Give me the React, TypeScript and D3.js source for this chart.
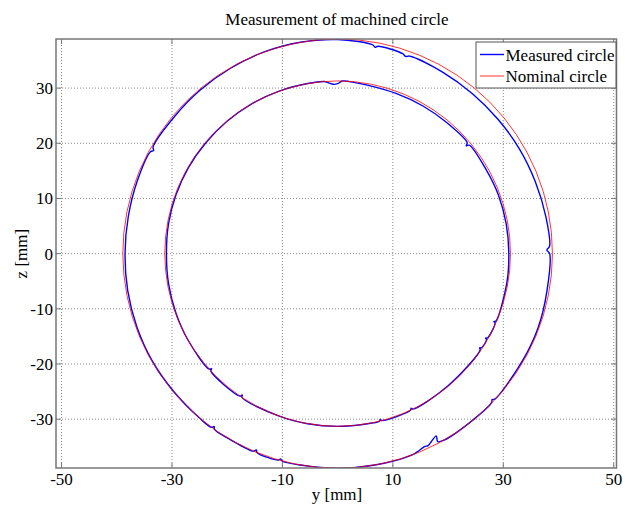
import React, { useEffect, useRef } from "react";
import * as d3 from "d3";

// nominal circle radii [mm] (outer, inner)
const nominalRadii = [38.9, 31.3];

// measured outer circle: polar angle [deg] and radial deviation from nominal [mm]
const outerAngles = [
  0, 1, 2, 10, 20, 30, 40, 50, 60, 70, 71, 72, 79, 79.7, 80.4, 90, 100, 110, 120,
  130, 140, 150, 150.7, 151.4, 160, 170, 180, 190, 200, 210, 220, 230, 234, 234.5,
  235, 240, 247, 247.5, 248, 254, 254.5, 255, 260, 270, 280, 290, 292, 294.2, 295.2,
  296.5, 298.4, 298.0, 299.5, 310, 316, 316.6, 317.2, 330, 340, 350,
];
const outerDev = [
  -0.5, -1.0, -0.5, -0.6, -0.8, -0.9, -1.0, -1.0, -0.9, -0.8, -1.1, -0.8, -0.6, -0.9,
  -0.55, -0.1, 0, 0, -0.1, -0.2, -0.3, -0.3, -0.7, -0.3, -0.3, -0.4, -0.4, -0.3, -0.2,
  -0.1, -0.1, 0, 0, -0.4, 0, 0, 0, -0.4, 0, 0, -0.3, 0, 0, 0, 0, 0, -0.2, -0.55, -0.45,
  -0.85, -1.35, -0.3, 0, -0.05, -0.1, -0.4, -0.1, -0.2, -0.2, -0.4,
];

// measured inner circle
const innerAngles = [
  0, 10, 20, 30, 39.5, 40, 40.6, 50, 60, 70, 80, 86, 88.5, 90, 91.5, 93, 94.5, 100,
  110, 120, 130, 140, 150, 160, 170, 180, 190, 200, 210, 222, 222.4, 222.8, 235.6,
  236, 236.4, 250, 260, 270, 280, 284, 284.4, 284.8, 295, 295.4, 295.8, 310, 326,
  326.4, 326.8, 330, 330.3, 330.6, 336.2, 336.5, 336.8, 350,
];
const innerDev = [
  -0.3, -0.3, -0.3, -0.4, -0.4, -0.9, -0.4, -0.4, -0.4, -0.4, -0.3, -0.05, 0, -0.5,
  -0.6, -0.3, 0, 0, 0, 0, -0.05, -0.1, -0.1, -0.15, -0.2, -0.3, -0.2, -0.1, 0, 0,
  -0.4, 0, 0, -0.4, 0, 0, 0, 0, 0, 0, -0.3, 0, 0, -0.3, 0, -0.1, -0.15, -0.45, -0.15,
  -0.15, -0.45, -0.15, -0.15, -0.45, -0.15, -0.2,
];

const xTicks = [-50, -30, -10, 10, 30, 50];
const yTicks = [-30, -20, -10, 0, 10, 20, 30];
const legendLabels = ["Measured circle", "Nominal circle"];

const W = 625;
const H = 505;
const plot = { left: 56, top: 39, right: 616.5, bottom: 468 };
const FONT = "Liberation Serif, Times New Roman, serif";
const FS = 17;

export default function App() {
  const ref = useRef<SVGSVGElement>(null);

  useEffect(() => {
    const svg = d3.select(ref.current);
    svg.selectAll("*").remove();
    svg.attr("font-family", FONT).attr("font-size", FS);

    const x = d3.scaleLinear().domain([-51.0, 50.5]).range([plot.left, plot.right]);
    const y = d3.scaleLinear().domain([-38.85, 38.9]).range([plot.bottom, plot.top]);

    svg.append("rect").attr("width", W).attr("height", H).attr("fill", "#fff");

    // Title
    svg
      .append("text")
      .attr("x", 337)
      .attr("y", 25)
      .attr("text-anchor", "middle")
      .text("Measurement of machined circle");

    // Grid
    const grid = svg.append("g").attr("stroke", "#8a8a8a").attr("stroke-dasharray", "1,2");
    xTicks.forEach((t) => {
      grid
        .append("line")
        .attr("x1", x(t))
        .attr("x2", x(t))
        .attr("y1", plot.top)
        .attr("y2", plot.bottom);
    });
    yTicks.forEach((t) => {
      grid
        .append("line")
        .attr("x1", plot.left)
        .attr("x2", plot.right)
        .attr("y1", y(t))
        .attr("y2", y(t));
    });

    // clip
    svg
      .append("clipPath")
      .attr("id", "plotclip")
      .append("rect")
      .attr("x", plot.left)
      .attr("y", plot.top)
      .attr("width", plot.right - plot.left)
      .attr("height", plot.bottom - plot.top);

    const g = svg.append("g").attr("clip-path", "url(#plotclip)");

    const line = d3
      .line<[number, number]>()
      .x((d) => x(d[0]))
      .y((d) => y(d[1]))
      .curve(d3.curveCatmullRomClosed.alpha(0.5));

    const measured = [
      { R: nominalRadii[0], angles: outerAngles, dev: outerDev },
      { R: nominalRadii[1], angles: innerAngles, dev: innerDev },
    ];
    measured.forEach((m) => {
      const pts: [number, number][] = m.angles.map((a, i) => {
        const r = m.R + m.dev[i];
        const th = (a * Math.PI) / 180;
        return [r * Math.cos(th), r * Math.sin(th)];
      });
      g.append("path")
        .attr("d", line(pts))
        .attr("fill", "none")
        .attr("stroke", "#0000ff")
        .attr("stroke-width", 1.4);
    });

    // nominal circles
    nominalRadii.forEach((R) => {
      g.append("ellipse")
        .attr("cx", x(0))
        .attr("cy", y(0))
        .attr("rx", x(R) - x(0))
        .attr("ry", y(0) - y(R))
        .attr("fill", "none")
        .attr("stroke", "#ff0000")
        .attr("stroke-width", 0.8);
    });

    // Axes box and ticks
    const axisColor = "#777";
    svg
      .append("rect")
      .attr("x", plot.left)
      .attr("y", plot.top)
      .attr("width", plot.right - plot.left)
      .attr("height", plot.bottom - plot.top)
      .attr("fill", "none")
      .attr("stroke", axisColor)
      .attr("stroke-width", 1.5);

    const tl = 5;
    const ticks = svg.append("g").attr("stroke", axisColor).attr("stroke-width", 1);
    xTicks.forEach((t) => {
      ticks.append("line").attr("x1", x(t)).attr("x2", x(t)).attr("y1", plot.bottom).attr("y2", plot.bottom - tl);
      ticks.append("line").attr("x1", x(t)).attr("x2", x(t)).attr("y1", plot.top).attr("y2", plot.top + tl);
    });
    yTicks.forEach((t) => {
      ticks.append("line").attr("x1", plot.left).attr("x2", plot.left + tl).attr("y1", y(t)).attr("y2", y(t));
      ticks.append("line").attr("x1", plot.right).attr("x2", plot.right - tl).attr("y1", y(t)).attr("y2", y(t));
    });

    xTicks.forEach((t) => {
      svg
        .append("text")
        .attr("x", x(t))
        .attr("y", 485)
        .attr("text-anchor", "middle")
        .text(t);
    });
    yTicks.forEach((t) => {
      svg
        .append("text")
        .attr("x", 53)
        .attr("y", y(t))
        .attr("dy", "0.35em")
        .attr("text-anchor", "end")
        .text(t);
    });

    // axis labels
    svg
      .append("text")
      .attr("x", 337)
      .attr("y", 500)
      .attr("text-anchor", "middle")
      .text("y [mm]");
    svg
      .append("text")
      .attr("transform", `translate(27,${y(0)}) rotate(-90)`)
      .attr("text-anchor", "middle")
      .text("z [mm]");

    // Legend
    const lg = svg.append("g");
    lg.append("rect")
      .attr("x", 476)
      .attr("y", 42)
      .attr("width", 140)
      .attr("height", 46)
      .attr("fill", "#fff")
      .attr("stroke", "#555")
      .attr("stroke-width", 1);
    const legendColors = ["#0000ff", "#ff0000"];
    const legendWidths = [1.4, 0.8];
    legendLabels.forEach((lab, i) => {
      const ly = 54.5 + i * 21.5;
      lg.append("line")
        .attr("x1", 480)
        .attr("x2", 504)
        .attr("y1", ly)
        .attr("y2", ly)
        .attr("stroke", legendColors[i])
        .attr("stroke-width", legendWidths[i]);
      lg.append("text")
        .attr("x", 505.5)
        .attr("y", ly + 6)
        .text(lab);
    });
  }, []);

  return (
    <svg
      ref={ref}
      width={W}
      height={H}
      style={{ position: "absolute", left: 0, top: 0 }}
    />
  );
}
